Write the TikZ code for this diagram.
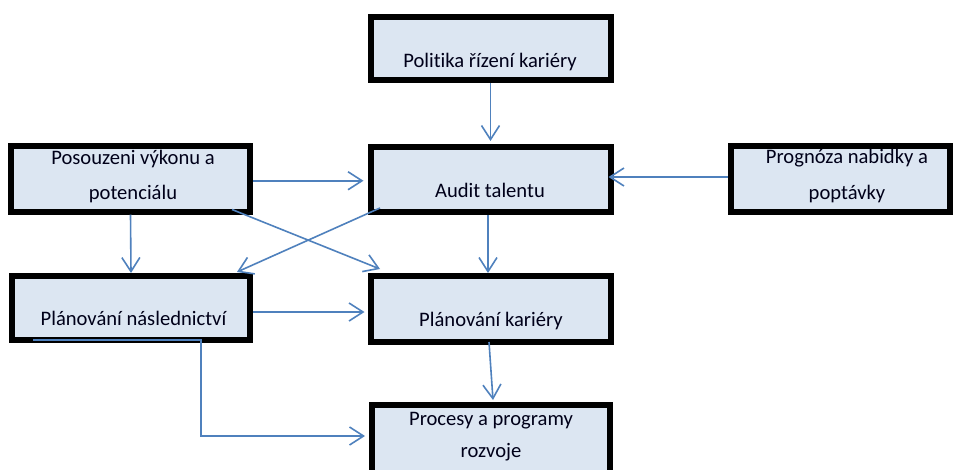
\documentclass[tikz,border=0pt]{standalone}
\usepackage{fontspec}
\setmainfont{Carlito}[Ligatures=CommonOff,RawFeature={-liga;-calt}]
\usetikzlibrary{arrows.meta,calc}
\definecolor{boxfill}{HTML}{DCE6F2}
\definecolor{arrblue}{HTML}{4F81BD}
\begin{document}
\begin{tikzpicture}[x=1pt,y=-1pt,
  box/.style={draw=black,line width=6pt,fill=boxfill,inner sep=0pt},
  lbl/.style={anchor=base,inner sep=0pt,text=black!90!blue,font=\fontsize{20.6}{24}\selectfont},
  arr/.style={draw=arrblue,line width=1.6pt,-{Straight Barb[length=14pt,width=18pt]}}]
\clip (0,0) rectangle (958,469);
\fill[white] (0,0) rectangle (958,469);
% boxes
\node[box,minimum width=240pt,minimum height=63.5pt] (pol) at (490.5,48.25) {};
\node[box,minimum width=239pt,minimum height=65.5pt] (pos) at (130.5,178.75) {};
\node[box,minimum width=240pt,minimum height=65pt] (aud) at (490.5,179.5) {};
\node[box,minimum width=219pt,minimum height=66pt] (pro) at (840.5,179) {};
\node[box,minimum width=238pt,minimum height=64pt] (pn) at (131,308) {};
\node[box,minimum width=240pt,minimum height=66pt] (pk) at (490.5,309) {};
\node[box,minimum width=238pt,minimum height=75pt] (proc) at (491,442.5) {};
% texts
\node[lbl] (tpol) at (490,67) {Poli\kern0pt tika řízení kariéry};
\node[lbl] (tpos1) at (133,164) {Posouzeni výkonu a};
\node[lbl] (tpos2) at (133,199) {potenciálu};
\node[lbl] (taud) at (490,197) {Audit talentu};
\node[lbl] (tpro1) at (847,163) {Prognóza nabidky a};
\node[lbl] (tpro2) at (847,199) {poptávky};
\node[lbl] (tpn) at (133.5,325) {Plánování následnictví};
\node[lbl] (tpk) at (491,326) {Plánování kariéry};
\node[lbl] (tproc1) at (491,425) {Procesy a programy};
\node[lbl] (tproc2) at (491,457) {rozvoje};
% connectors
\draw[arr] (pol.south) -- ($(aud.north)+(0,-3)$);
\draw[arr] ($(pos.east)+(0,2)$) -- ($(pos.east -| aud.west)+(-4,2)$);
\draw[arr] ($(pro.west)+(0,-2)$) -- ($(pro.west -| aud.east)+(-5,-2)$);
\draw[arr] (pos.south) -- (pn.north);
\draw[arr] ($(pos.south east)+(-21,-5)$) -- ($(pk.north west)+(12.5,-4)$);
\draw[arr] ($(aud.south west)+(12.5,-7)$) -- ($(pn.north east)+(-16,-1)$);
\draw[arr] ($(aud.south)+(-2.5,0)$) -- ($(pk.north)+(-2.5,0)$);
\draw[arr] ($(pn.east)+(0,4)$) -- ($(pn.east -| pk.west)+(-3,4)$);
\draw[arr] ($(pk.south)+(-1.5,-3)$) -- ($(proc.north)+(2,-2)$);
\draw[arr] ($(pn.south west)+(24,-3)$) -- ++(168,0) |- ($(proc.west)+(-4,-6.5)$);
\end{tikzpicture}
\end{document}
